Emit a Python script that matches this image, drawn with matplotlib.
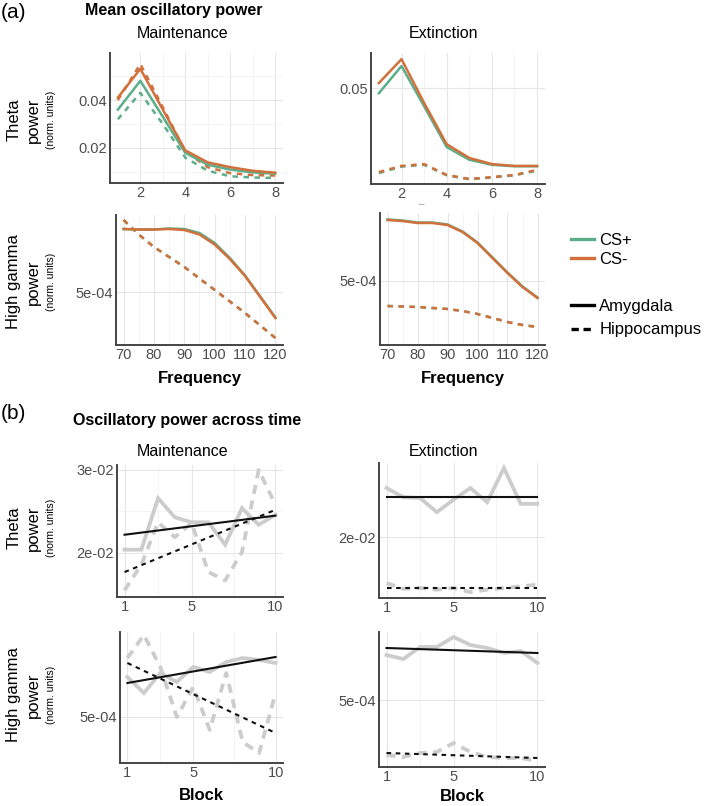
import numpy as np
import matplotlib
matplotlib.use("Agg")
import matplotlib.pyplot as plt
from matplotlib.lines import Line2D

plt.rcParams["font.family"] = ["Liberation Sans", "DejaVu Sans"]

W, H = 709, 806

GREEN = "#5cae8a"
ORANGE = "#d2703c"
GRAY = "#cccccc"

# ---- (a) mean oscillatory power: theta (1-8 Hz) ----
theta_freq = [1, 2, 3, 4, 5, 6, 7, 8]
maint_theta_csp_amy = [0.036, 0.048, 0.033, 0.018, 0.013, 0.011, 0.0098, 0.0093]
maint_theta_csm_amy = [0.041, 0.053, 0.036, 0.019, 0.014, 0.012, 0.0105, 0.0097]
maint_theta_csp_hip = [0.032, 0.043, 0.030, 0.016, 0.0105, 0.0082, 0.0077, 0.0075]
maint_theta_csm_hip = [0.040, 0.055, 0.037, 0.0185, 0.012, 0.0095, 0.0087, 0.0085]

ext_theta_csp_amy = [0.0486, 0.0561, 0.0450, 0.0337, 0.0302, 0.0288, 0.0284, 0.0284]
ext_theta_csm_amy = [0.0514, 0.0580, 0.0459, 0.0345, 0.0307, 0.0290, 0.0285, 0.0285]
ext_theta_csp_hip = [0.0265, 0.0283, 0.0288, 0.0259, 0.0248, 0.0253, 0.0259, 0.0272]
ext_theta_csm_hip = [0.0268, 0.0285, 0.0290, 0.0260, 0.0249, 0.0254, 0.0260, 0.0274]

# ---- (a) mean oscillatory power: high gamma (70-120 Hz) ----
gamma_freq = [70, 75, 80, 85, 90, 95, 100, 105, 110, 115, 120]
maint_gamma_csp_amy = [6.26e-4, 6.25e-4, 6.25e-4, 6.27e-4, 6.26e-4, 6.18e-4, 5.98e-4, 5.68e-4, 5.33e-4, 4.91e-4, 4.49e-4]
maint_gamma_csm_amy = [6.26e-4, 6.25e-4, 6.25e-4, 6.26e-4, 6.24e-4, 6.15e-4, 5.95e-4, 5.66e-4, 5.32e-4, 4.90e-4, 4.48e-4]
maint_gamma_csp_hip = [6.44e-4, 6.15e-4, 5.90e-4, 5.70e-4, 5.50e-4, 5.27e-4, 5.04e-4, 4.81e-4, 4.58e-4, 4.33e-4, 4.08e-4]
maint_gamma_csm_hip = [6.44e-4, 6.15e-4, 5.90e-4, 5.70e-4, 5.50e-4, 5.27e-4, 5.04e-4, 4.81e-4, 4.58e-4, 4.33e-4, 4.08e-4]

ext_gamma_csp_amy = [6.23e-4, 6.21e-4, 6.17e-4, 6.17e-4, 6.13e-4, 5.99e-4, 5.77e-4, 5.47e-4, 5.17e-4, 4.89e-4, 4.67e-4]
ext_gamma_csm_amy = [6.22e-4, 6.20e-4, 6.16e-4, 6.16e-4, 6.12e-4, 5.98e-4, 5.76e-4, 5.46e-4, 5.16e-4, 4.88e-4, 4.66e-4]
ext_gamma_csp_hip = [4.50e-4, 4.49e-4, 4.48e-4, 4.46e-4, 4.44e-4, 4.40e-4, 4.34e-4, 4.26e-4, 4.18e-4, 4.12e-4, 4.08e-4]
ext_gamma_csm_hip = [4.50e-4, 4.49e-4, 4.48e-4, 4.46e-4, 4.44e-4, 4.40e-4, 4.34e-4, 4.26e-4, 4.18e-4, 4.12e-4, 4.08e-4]

# ---- (b) oscillatory power across time ----
blocks = [1, 2, 3, 4, 5, 6, 7, 8, 9, 10]
fit_x = [1, 10]

maint_theta_amy = [0.0204, 0.0204, 0.0266, 0.0243, 0.0237, 0.0237, 0.0210, 0.0254, 0.0234, 0.0246]
maint_theta_hip = [0.0155, 0.0186, 0.0237, 0.0219, 0.0236, 0.0177, 0.0167, 0.0201, 0.0300, 0.0258]
maint_theta_amy_fit = [0.0222, 0.0245]
maint_theta_hip_fit = [0.0177, 0.0252]

ext_theta_amy = [0.0259, 0.0248, 0.0247, 0.0230, 0.0245, 0.0259, 0.0242, 0.0283, 0.0240, 0.0240]
ext_theta_hip = [0.0145, 0.0138, 0.0139, 0.0137, 0.0139, 0.0134, 0.0137, 0.0139, 0.0141, 0.0143]
ext_theta_amy_fit = [0.0248, 0.0248]
ext_theta_hip_fit = [0.0139, 0.0139]

maint_gamma_amy = [5.80e-4, 5.48e-4, 5.88e-4, 5.70e-4, 6.00e-4, 5.90e-4, 6.10e-4, 6.18e-4, 6.14e-4, 6.08e-4]
maint_gamma_hip = [6.18e-4, 6.64e-4, 6.00e-4, 5.00e-4, 5.60e-4, 4.74e-4, 5.88e-4, 4.50e-4, 4.28e-4, 5.48e-4]
maint_gamma_amy_fit = [5.68e-4, 6.20e-4]
maint_gamma_hip_fit = [6.08e-4, 4.68e-4]

ext_gamma_amy = [5.90e-4, 5.82e-4, 6.06e-4, 6.06e-4, 6.26e-4, 6.10e-4, 6.04e-4, 5.94e-4, 5.98e-4, 5.74e-4]
ext_gamma_hip = [3.90e-4, 3.86e-4, 3.94e-4, 3.96e-4, 4.14e-4, 3.96e-4, 3.86e-4, 3.84e-4, 3.84e-4, 3.78e-4]
ext_gamma_amy_fit = [6.04e-4, 5.94e-4]
ext_gamma_hip_fit = [3.94e-4, 3.84e-4]


fig = plt.figure(figsize=(W / 100, H / 100), dpi=100)


def px_axes(left, top, right, bottom):
    return fig.add_axes([left / W, 1 - bottom / H, (right - left) / W, (bottom - top) / H])


def style(ax, xt, xminor, yt, ylabels, yminor, ylim):
    for s in ("top", "right"):
        ax.spines[s].set_visible(False)
    for s in ("left", "bottom"):
        ax.spines[s].set_color("#444444")
        ax.spines[s].set_linewidth(1.4)
    ax.set_xticks(xt)
    ax.set_xticks(xminor, minor=True)
    ax.set_yticks(yt)
    ax.set_yticklabels(ylabels)
    ax.set_yticks(yminor, minor=True)
    ax.set_ylim(*ylim)
    ax.margins(x=0.05)
    ax.tick_params(which="both", length=0, pad=2, labelsize=10.5, labelcolor="#4d4d4d")
    ax.grid(which="major", color="#e6e6e6", linewidth=0.8)
    ax.grid(which="minor", color="#f2f2f2", linewidth=0.6)
    ax.set_axisbelow(True)


def spectrum(ax, x, csp_amy, csm_amy, csp_hip, csm_hip):
    ax.plot(x, csp_hip, color=GREEN, lw=1.8, dashes=(2.2, 2.2))
    ax.plot(x, csm_hip, color=ORANGE, lw=1.8, dashes=(2.2, 2.2))
    ax.plot(x, csp_amy, color=GREEN, lw=1.8)
    ax.plot(x, csm_amy, color=ORANGE, lw=1.8)


def across_time(ax, amy, hip, amy_fit, hip_fit):
    ax.plot(blocks, amy, color=GRAY, lw=2.7, solid_joinstyle="miter")
    ax.plot(blocks, hip, color=GRAY, lw=2.7, dashes=(2.4, 1.8))
    ax.plot(fit_x, amy_fit, color="#111111", lw=1.5)
    ax.plot(fit_x, hip_fit, color="#111111", lw=1.5, dashes=(2.2, 2.2))


theta_xt, theta_xm = [2, 4, 6, 8], [3, 5, 7]
gamma_xt, gamma_xm = [70, 80, 90, 100, 110, 120], [75, 85, 95, 105, 115]
block_xt, block_xm = [1, 5, 10], [3, 7.5]

a1 = px_axes(110, 53, 283, 183)
spectrum(a1, theta_freq, maint_theta_csp_amy, maint_theta_csm_amy, maint_theta_csp_hip, maint_theta_csm_hip)
style(a1, theta_xt, theta_xm, [0.02, 0.04], ["0.02", "0.04"], [0.01, 0.03, 0.05], (0.0054, 0.0596))

a2 = px_axes(371, 53, 545, 184)
spectrum(a2, theta_freq, ext_theta_csp_amy, ext_theta_csm_amy, ext_theta_csp_hip, ext_theta_csm_hip)
style(a2, theta_xt, theta_xm, [0.05], ["0.05"], [], (0.0235, 0.0597))

a3 = px_axes(116, 215, 283, 345)
spectrum(a3, gamma_freq, maint_gamma_csp_amy, maint_gamma_csm_amy, maint_gamma_csp_hip, maint_gamma_csm_hip)
style(a3, gamma_xt, gamma_xm, [5e-4], ["5e-04"], [], (3.94e-4, 6.54e-4))
a3.set_xlabel("Frequency", fontsize=12, fontweight="bold", labelpad=7)

a4 = px_axes(380, 213, 545, 345)
spectrum(a4, gamma_freq, ext_gamma_csp_amy, ext_gamma_csm_amy, ext_gamma_csp_hip, ext_gamma_csm_hip)
style(a4, gamma_xt, gamma_xm, [5e-4], ["5e-04"], [], (3.72e-4, 6.36e-4))
a4.set_xlabel("Frequency", fontsize=12, fontweight="bold", labelpad=7)

b1 = px_axes(117, 465, 283, 597)
across_time(b1, maint_theta_amy, maint_theta_hip, maint_theta_amy_fit, maint_theta_hip_fit)
style(b1, block_xt, block_xm, [0.02, 0.03], ["2e-02", "3e-02"], [0.025], (0.0147, 0.0306))

b2 = px_axes(379, 463, 545, 598)
across_time(b2, ext_theta_amy, ext_theta_hip, ext_theta_amy_fit, ext_theta_hip_fit)
style(b2, block_xt, block_xm, [0.02], ["2e-02"], [], (0.0127, 0.0289))

b3 = px_axes(120, 632, 283, 763)
across_time(b3, maint_gamma_amy, maint_gamma_hip, maint_gamma_amy_fit, maint_gamma_hip_fit)
style(b3, block_xt, block_xm, [5e-4], ["5e-04"], [], (4.08e-4, 6.70e-4))
b3.set_xlabel("Block", fontsize=12, fontweight="bold", labelpad=6)

b4 = px_axes(379, 632, 545, 767)
across_time(b4, ext_gamma_amy, ext_gamma_hip, ext_gamma_amy_fit, ext_gamma_hip_fit)
style(b4, block_xt, block_xm, [5e-4], ["5e-04"], [], (3.66e-4, 6.36e-4))
b4.set_xlabel("Block", fontsize=12, fontweight="bold", labelpad=4)


def ftext(x, y, s, **kw):
    fig.text(x / W, 1 - y / H, s, **kw)


# panel headings
ftext(1, 13, "(a)", fontsize=15, ha="left", va="center")
ftext(174, 11, "Mean oscillatory power", fontsize=11.5, fontweight="bold", ha="center", va="center")
ftext(183, 33, "Maintenance", fontsize=11.5, ha="center", va="center")
ftext(443, 33, "Extinction", fontsize=11.5, ha="center", va="center")
ftext(1, 414, "(b)", fontsize=15, ha="left", va="center")
ftext(187, 420, "Oscillatory power across time", fontsize=11.5, fontweight="bold", ha="center", va="center")
ftext(183, 452, "Maintenance", fontsize=11.5, ha="center", va="center")
ftext(443, 452, "Extinction", fontsize=11.5, ha="center", va="center")
ftext(421, 200, "_", fontsize=7, color="#999999", ha="center", va="center")

# row labels
for yc, name in [(120, "Theta"), (282, "High gamma"), (528, "Theta"), (695, "High gamma")]:
    ftext(14, yc, name, fontsize=12, rotation=90, ha="center", va="center")
    ftext(33, yc, "power", fontsize=12, rotation=90, ha="center", va="center")
    ftext(51, yc, "(norm. units)", fontsize=7.5, rotation=90, ha="center", va="center")

# legends
cs_handles = [Line2D([], [], color=GREEN, lw=2.4), Line2D([], [], color=ORANGE, lw=2.4)]
region_handles = [Line2D([], [], color="black", lw=2.4),
                  Line2D([], [], color="black", lw=2.4, dashes=(2.2, 1.4))]
leg1 = fig.legend(cs_handles, ["CS+", "CS-"], loc="upper left",
                  bbox_to_anchor=(556 / W, 1 - 218 / H), frameon=False, fontsize=12,
                  handlelength=1.4, handletextpad=0.3, labelspacing=0.25)
leg2 = fig.legend(region_handles, ["Amygdala", "Hippocampus"], loc="upper left",
                  bbox_to_anchor=(556 / W, 1 - 284 / H), frameon=False, fontsize=12,
                  handlelength=1.4, handletextpad=0.3, labelspacing=0.5)

fig.savefig("out.png", dpi=100)
